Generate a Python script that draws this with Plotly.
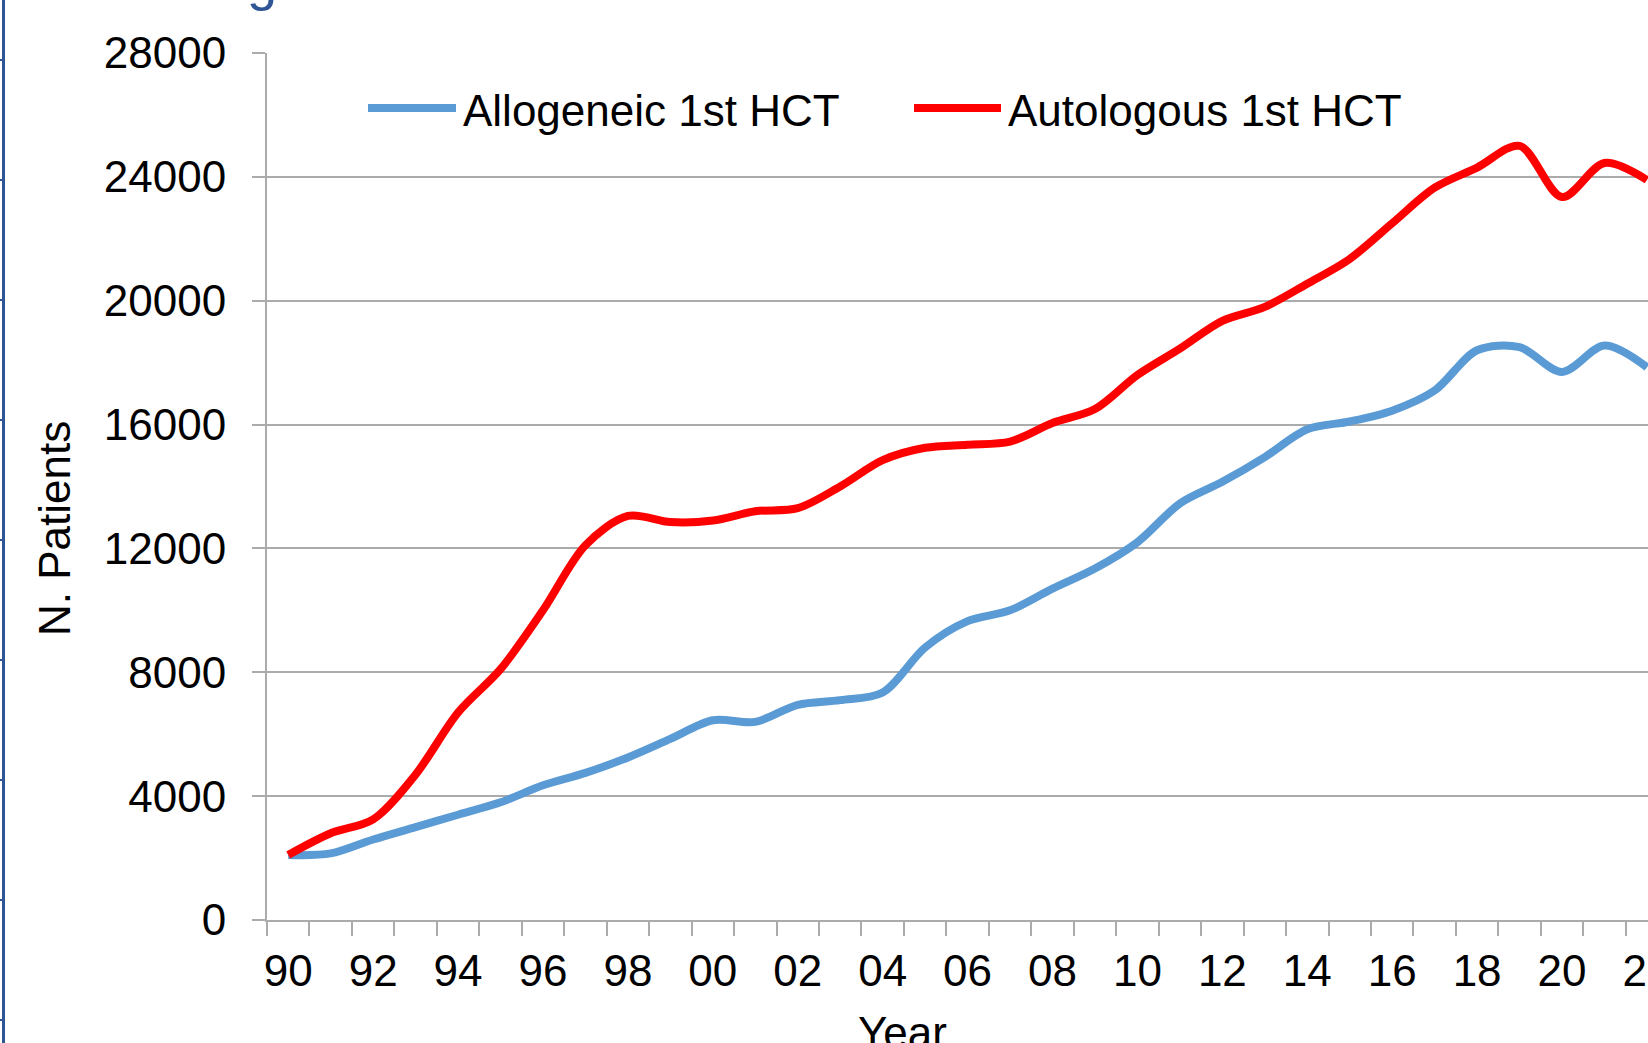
import plotly.graph_objects as go

# ---- data ----
years = list(range(1990, 2023))
allogeneic = [2100, 2150, 2600, 3000, 3400, 3800, 4350, 4750, 5250, 5850,
              6450, 6400, 6950, 7100, 7350, 8800, 9650, 10000, 10700, 11350,
              12200, 13450, 14150, 14950, 15850, 16100, 16450, 17100, 18400,
              18500, 17700, 18550, 17850]
autologous = [2100, 2800, 3250, 4700, 6700, 8100, 10000, 12100, 13050, 12850,
              12900, 13200, 13300, 14000, 14850, 15250, 15350, 15450, 16050,
              16500, 17600, 18450, 19350, 19800, 20550, 21350, 22500, 23650,
              24300, 25000, 23350, 24450, 23900]
series_names = ["Allogeneic 1st HCT", "Autologous 1st HCT"]
series_colors = ["#5B9BD5", "#FF0000"]
x_tick_years = list(range(1990, 2023, 2))
x_tick_text = [f"{y % 100:02d}" for y in x_tick_years]
y_ticks = list(range(0, 28001, 4000))

FONT = "Liberation Sans, Arial, sans-serif"
GRID = "#ABABAB"

fig = go.Figure()
for name, vals, col in zip(series_names, [allogeneic, autologous], series_colors):
    fig.add_trace(go.Scatter(
        x=years, y=vals, name=name, mode="lines",
        line=dict(color=col, width=8, shape="spline", smoothing=0.9),
        showlegend=False, cliponaxis=True,
    ))

W, H = 1648, 1043
L, R, T, B = 267, 0, 53, 123
pw = W - L - R
ph = H - T - B
px_per_year = 42.46
x0 = 1989.5
x1 = x0 + pw / px_per_year

def px_x(p):
    return (p - L) / pw

def px_y(p):
    return (H - B - p) / ph

fig.update_layout(
    width=W, height=H,
    margin=dict(l=L, r=R, t=T, b=B, pad=0, autoexpand=False),
    paper_bgcolor="white", plot_bgcolor="white",
    font=dict(family=FONT, size=44, color="#000000"),
    showlegend=False,
)

fig.update_xaxes(
    range=[x0, x1], tickmode="array", tickvals=x_tick_years, ticktext=x_tick_text,
    ticks="", showgrid=False, zeroline=False, automargin=False,
    showline=True, linecolor=GRID, linewidth=2,
    tickfont=dict(family=FONT, size=44, color="#000000"),
    ticklabeloverflow="allow", ticklabelstandoff=11,
    minor=dict(tickmode="linear", tick0=1989.5, dtick=1, ticks="outside",
               ticklen=14, tickwidth=2, tickcolor=GRID, showgrid=False),
)
fig.update_yaxes(
    range=[0, 28000], tickmode="array", tickvals=y_ticks, tickformat="d",
    ticks="outside", ticklen=13, tickwidth=2, tickcolor=GRID,
    showgrid=True, gridcolor=GRID, gridwidth=2, zeroline=False, automargin=False,
    showline=True, linecolor=GRID, linewidth=2,
    tickfont=dict(family=FONT, size=44, color="#000000"),
    ticklabelstandoff=17,
)

# axis titles
fig.add_annotation(text="N. Patients", xref="paper", yref="paper",
                   x=px_x(54), y=px_y(529), textangle=-90, showarrow=False,
                   xanchor="center", yanchor="middle",
                   font=dict(family=FONT, size=44, color="#000000"))
fig.add_annotation(text="Year", xref="paper", yref="paper",
                   x=px_x(902), y=px_y(1006), showarrow=False,
                   xanchor="center", yanchor="top",
                   font=dict(family=FONT, size=44, color="#000000"))

# custom legend
legend_items = [(368, 456, 461), (914, 1001, 1006)]
for (lx0, lx1, tx), name, col in zip(legend_items, series_names, series_colors):
    fig.add_shape(type="line", xref="paper", yref="paper",
                  x0=px_x(lx0), x1=px_x(lx1), y0=px_y(108), y1=px_y(108),
                  line=dict(color=col, width=8), layer="above")
    fig.add_annotation(text=name, xref="paper", yref="paper",
                       x=px_x(tx), y=px_y(110), showarrow=False,
                       xanchor="left", yanchor="middle",
                       font=dict(family=FONT, size=44, color="#000000"))

# slide frame fragments: partial title glyph and left border
fig.add_annotation(text="g", xref="paper", yref="paper",
                   x=px_x(262), y=px_y(13), showarrow=False,
                   xanchor="center", yanchor="bottom",
                   font=dict(family=FONT, size=54, color="#2F5597"))
fig.add_shape(type="line", xref="paper", yref="paper",
              x0=px_x(3.5), x1=px_x(3.5), y0=px_y(H + 20), y1=px_y(-20),
              line=dict(color="#2F5597", width=3), layer="above")
for my in range(60, H, 120):
    fig.add_shape(type="line", xref="paper", yref="paper",
                  x0=px_x(0), x1=px_x(4), y0=px_y(my), y1=px_y(my),
                  line=dict(color="#2F5597", width=2), layer="above")

fig.write_html(
    "out.html",
    config={"displayModeBar": False},
    post_script="document.body.style.margin='0';document.body.style.padding='0';"
                "document.body.style.overflow='hidden';",
)
